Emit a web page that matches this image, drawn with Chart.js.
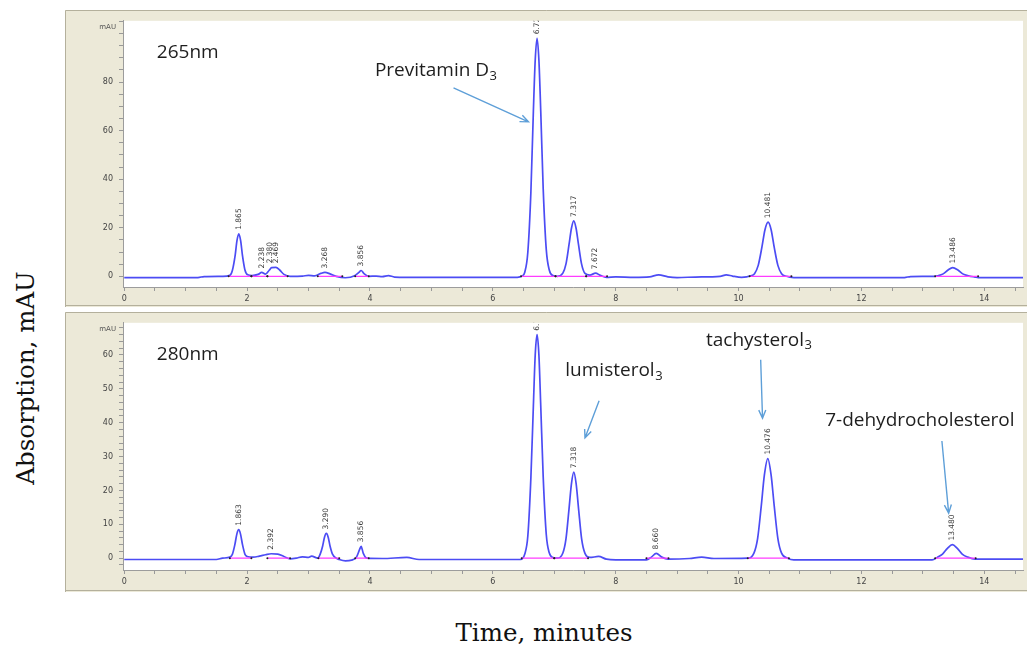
<!DOCTYPE html>
<html>
<head>
<meta charset="utf-8">
<title>Chromatogram 265 / 280 nm</title>
<script src="https://cdn.jsdelivr.net/npm/chart.js@4.4.1/dist/chart.umd.min.js"></script>
<style>
  html, body { margin: 0; padding: 0; background: #fff; }
  #page { position: relative; width: 1027px; height: 645px; overflow: hidden; background: #fff; }
  #page canvas { position: absolute; left: 65px; }
  #c265 { top: 10px; }
  #c280 { top: 312px; }
  .axis-title { position: absolute; font-family: 'DejaVu Serif', serif; font-size: 24.5px; color: #111; white-space: nowrap; }
  #ytitle { left: 25px; top: 378px; transform: translate(-50%, -50%) rotate(-90deg); }
  #xtitle { left: 544px; top: 632px; transform: translate(-50%, -50%); }
</style>
</head>
<body>
<div id="page">
  <canvas id="c265" width="962" height="297"></canvas>
  <canvas id="c280" width="962" height="280"></canvas>
  <div id="ytitle" class="axis-title">Absorption, mAU</div>
  <div id="xtitle" class="axis-title">Time, minutes</div>
</div>
<script>
// ---- 265 nm trace (time in min, absorbance in mAU)
const time265 = [0, 1.2, 1.3, 1.6, 1.72, 1.76, 1.805, 1.835, 1.865, 1.895, 1.925, 1.965, 2.01, 2.08, 2.18, 2.238, 2.3, 2.36, 2.4, 2.47, 2.53, 2.6, 2.7, 2.9, 3.0, 3.1, 3.2, 3.268, 3.35, 3.45, 3.6, 3.75, 3.82, 3.856, 3.9, 3.98, 4.1, 4.2, 4.3, 4.4, 4.6,
  6.4, 6.47, 6.52, 6.57, 6.62, 6.66, 6.69, 6.72, 6.75, 6.78, 6.82, 6.87, 6.92, 6.98, 7.05, 7.14, 7.19, 7.24, 7.28, 7.317, 7.355, 7.395, 7.445, 7.5, 7.58, 7.672, 7.75, 7.85,
  8.0, 8.3, 8.55, 8.7, 8.85, 9.0, 9.3, 9.7, 9.8, 9.9, 10.05, 10.2, 10.26, 10.32, 10.38, 10.43, 10.481, 10.53, 10.58, 10.64, 10.7, 10.78, 10.9,
  12.7, 12.8, 13.2, 13.24, 13.33, 13.41, 13.486, 13.57, 13.65, 13.74, 13.85, 13.9, 14.63];
const abs265 = [-0.5, -0.5, -0.1, 0, 0.4, 2.4, 8.5, 14.7, 17.5, 14.7, 8.5, 2.6, 0.6, 0.3, 0.8, 1.6, 0.9, 2.5, 3.6, 3.7, 2.6, 0.8, 0, 0.1, 0.4, 0.2, 1.2, 1.6, 1.0, 0, -0.6, 0.2, 1.6, 2.4, 1.2, 0, 0.1, -0.1, 0.3, -0.3, -0.4,
  -0.4, 0, 1.7, 10, 35, 68, 89, 98, 89, 68, 36, 11, 2.5, 0.3, 0, 1.3, 5, 13, 19.8, 22.8, 19.8, 13, 5, 1.2, 0.5, 1.3, 0.4, -0.4,
  -0.2, -0.4, -0.2, 0.6, -0.2, -0.5, -0.3, 0, 0.6, 0.1, -0.4, 0.2, 1.1, 4.5, 12, 19.2, 22.3, 19.2, 12, 4.5, 1.1, 0, -0.5,
  -0.5, -0.1, 0, 0.2, 1.0, 2.6, 3.6, 2.6, 1.0, 0.2, -0.3, -0.5, -0.5];

// ---- 280 nm trace
const time280 = [0, 1.5, 1.6, 1.72, 1.76, 1.8, 1.833, 1.863, 1.893, 1.926, 1.966, 2.0, 2.1, 2.2, 2.3, 2.392, 2.5, 2.6, 2.7, 2.8, 2.9, 3.0, 3.05, 3.15, 3.19, 3.23, 3.26, 3.29, 3.32, 3.35, 3.39, 3.45, 3.5, 3.6, 3.7, 3.78, 3.83, 3.856, 3.89, 3.95, 4.2, 4.6, 4.8,
  6.45, 6.52, 6.57, 6.62, 6.66, 6.69, 6.72, 6.75, 6.78, 6.82, 6.87, 6.92, 6.98, 7.05, 7.14, 7.19, 7.24, 7.28, 7.318, 7.356, 7.396, 7.446, 7.5, 7.58, 7.72, 7.85,
  8.0, 8.5, 8.58, 8.66, 8.75, 8.85, 9.2, 9.4, 9.6, 10.15, 10.25, 10.31, 10.37, 10.42, 10.476, 10.53, 10.58, 10.64, 10.7, 10.8, 10.9,
  13.15, 13.24, 13.32, 13.4, 13.48, 13.56, 13.64, 13.73, 13.85, 14.63];
const abs280 = [-0.4, -0.4, 0, 0.3, 1.1, 3.9, 7.1, 8.4, 7.1, 3.9, 1.1, 0.5, 0.3, 0.6, 1.0, 1.3, 1.2, 0.5, -0.2, 0, 0.4, 0.2, 0.6, 0, 1.2, 3.6, 6.2, 7.3, 6.2, 3.6, 1.2, 0, -0.4, -0.8, -0.6, 0.3, 2.5, 3.5, 1.5, 0, -0.1, 0.2, -0.4,
  -0.4, 1.2, 6.6, 24, 45, 60, 66, 60, 45, 24, 7, 1.5, 0.2, 0, 1.5, 5.6, 14.5, 22, 25.4, 22, 14.5, 5.6, 1.4, 0.2, 0.5, -0.3,
  -0.5, -0.5, 0.3, 1.4, 0.3, -0.3, -0.1, 0.3, -0.1, 0, 1.5, 5.8, 15.5, 24.5, 29.4, 24.5, 15.5, 5.8, 1.5, 0, -0.5,
  -0.5, 0.3, 1.2, 2.9, 4, 2.9, 1.2, 0.3, -0.3, -0.3];

// integration baselines (start, end) in minutes
const base265 = [[1.70, 2.07], [2.07, 2.33], [2.33, 2.66], [3.15, 3.55], [3.76, 3.98], [6.46, 7.02], [7.02, 7.52], [7.52, 7.86], [10.18, 10.86], [13.2, 13.9]];
const base280 = [[1.72, 2.07], [2.33, 2.70], [3.16, 3.50], [3.76, 3.98], [6.47, 7.00], [7.00, 7.55], [8.50, 8.86], [10.15, 10.82], [13.2, 13.86]];

// retention time labels and the height they sit on
const peaks265 = ['1.865', '2.238', '2.380', '2.469', '3.268', '3.856', '6.720', '7.317', '7.672', '10.481', '13.486'];
const tops265 = [17.5, 1.6, 3.7, 3.7, 1.6, 2.4, 98, 22.8, 1.3, 22.3, 3.6];
const peaks280 = ['1.863', '2.392', '3.290', '3.856', '6.720', '7.318', '8.660', '10.476', '13.480'];
const tops280 = [8.4, 1.3, 7.3, 3.5, 66, 25.4, 1.4, 29.4, 4];

// axis labels
const xLabels = [0, 2, 4, 6, 8, 10, 12, 14];
const yLabels265 = [0, 20, 40, 60, 80];
const yLabels280 = [0, 10, 20, 30, 40, 50, 60];

// text notes and arrows, placed in data units
const notes265 = [
  { text: '265nm', t: 0.53, v: 92.2 },
  { text: 'Previtamin D', sub: '3', t: 4.08, v: 84.6 }
];
const arrows265 = [[5.36, 77.6, 6.58, 63.6]];
const notes280 = [
  { text: '280nm', t: 0.53, v: 60.2 },
  { text: 'lumisterol', sub: '3', t: 7.18, v: 55.3 },
  { text: 'tachysterol', sub: '3', t: 9.47, v: 64.2 },
  { text: '7-dehydrocholesterol', t: 11.41, v: 40.6 }
];
const arrows280 = [[7.73, 46.5, 7.50, 35.5], [10.36, 58.6, 10.39, 41.3], [13.31, 34.6, 13.42, 13.3]];

const BEIGE = '#ECE9D8';
const TRACE = '#4c4cf4';
const PINK = '#ff3cff';

function toPoints(ts, vs) {
  return ts.map((t, i) => ({ x: t, y: vs[i] }));
}

function baselinePoints(segs) {
  const pts = [];
  segs.forEach(([a, b]) => {
    pts.push({ x: a, y: 0 }, { x: b, y: 0 }, { x: b, y: null });
  });
  return pts;
}

const framePlugin = {
  id: 'frame',
  beforeDraw(chart) {
    const { ctx, width, height, chartArea: a } = chart;
    ctx.save();
    ctx.fillStyle = BEIGE;
    ctx.fillRect(0, 0, width, height);
    ctx.strokeStyle = '#b4b09c';
    ctx.lineWidth = 1;
    ctx.beginPath();
    ctx.moveTo(0.5, height);
    ctx.lineTo(0.5, 0.5);
    ctx.lineTo(width, 0.5);
    ctx.moveTo(0, height - 1.5);
    ctx.lineTo(width, height - 1.5);
    ctx.stroke();
    ctx.fillStyle = '#fff';
    ctx.fillRect(a.left, a.top, a.right - a.left, a.bottom - a.top);
    // unit label above the y axis
    ctx.fillStyle = '#555';
    ctx.font = '7px "DejaVu Sans"';
    ctx.textAlign = 'right';
    ctx.textBaseline = 'middle';
    ctx.fillText('mAU', a.left - 7, a.top + 6);
    ctx.restore();
  }
};

const markupPlugin = {
  id: 'markup',
  afterDatasetsDraw(chart, args, opts) {
    const { ctx, chartArea: a, scales: { x, y } } = chart;
    ctx.save();
    ctx.beginPath();
    ctx.rect(a.left, a.top, a.right - a.left, a.bottom - a.top);
    ctx.clip();

    // rotated retention times above peaks
    ctx.fillStyle = '#3a3a3a';
    ctx.font = '7.5px "DejaVu Sans"';
    ctx.textAlign = 'left';
    ctx.textBaseline = 'middle';
    opts.peaks.forEach((p, i) => {
      const px = x.getPixelForValue(parseFloat(p));
      const py = y.getPixelForValue(opts.tops[i]) - 4;
      ctx.save();
      ctx.translate(px, py);
      ctx.rotate(-Math.PI / 2);
      ctx.fillText(p, 0, 0);
      ctx.restore();
    });

    // notes
    ctx.fillStyle = '#1e1e1e';
    ctx.textBaseline = 'middle';
    opts.notes.forEach((n) => {
      const px = x.getPixelForValue(n.t);
      const py = y.getPixelForValue(n.v);
      ctx.font = '19px "Open Sans"';
      ctx.fillText(n.text, px, py);
      if (n.sub) {
        const w = ctx.measureText(n.text).width;
        ctx.font = '13px "Open Sans"';
        ctx.fillText(n.sub, px + w + 0.5, py + 5);
      }
    });

    // arrows
    ctx.strokeStyle = '#5e9fd8';
    ctx.lineWidth = 1.4;
    opts.arrows.forEach(([t1, v1, t2, v2]) => {
      const x1 = x.getPixelForValue(t1), y1 = y.getPixelForValue(v1);
      const x2 = x.getPixelForValue(t2), y2 = y.getPixelForValue(v2);
      const ang = Math.atan2(y2 - y1, x2 - x1);
      const head = 9;
      ctx.beginPath();
      ctx.moveTo(x1, y1);
      ctx.lineTo(x2, y2);
      ctx.moveTo(x2 - head * Math.cos(ang - 0.4), y2 - head * Math.sin(ang - 0.4));
      ctx.lineTo(x2, y2);
      ctx.lineTo(x2 - head * Math.cos(ang + 0.4), y2 - head * Math.sin(ang + 0.4));
      ctx.stroke();
    });
    ctx.restore();
  }
};

function stepTicks(scale, step) {
  const ticks = [];
  for (let v = Math.ceil(scale.min / step) * step; v <= scale.max + 1e-9; v += step) {
    ticks.push({ value: Math.round(v * 1000) / 1000 });
  }
  scale.ticks = ticks;
}

function makeChart(id, times, values, bases, peaks, tops, notes, arrows, yMin, yMax, yStep, yLabels, pad) {
  return new Chart(document.getElementById(id), {
    type: 'line',
    data: {
      datasets: [
        {
          data: baselinePoints(bases),
          borderColor: PINK,
          borderWidth: 1.2,
          pointRadius: 1,
          pointBackgroundColor: '#222',
          pointBorderWidth: 0,
          spanGaps: false,
          tension: 0
        },
        {
          data: toPoints(times, values),
          borderColor: TRACE,
          borderWidth: 1.7,
          pointRadius: 0,
          cubicInterpolationMode: 'monotone'
        }
      ]
    },
    options: {
      responsive: false,
      animation: false,
      devicePixelRatio: 1,
      layout: { padding: pad },
      plugins: {
        legend: { display: false },
        tooltip: { enabled: false },
        markup: { peaks, tops, notes, arrows }
      },
      scales: {
        x: {
          type: 'linear',
          min: -0.02,
          max: 14.63,
          afterBuildTicks: (s) => stepTicks(s, 0.5),
          afterFit: (s) => { s.height = 20; },
          ticks: {
            autoSkip: false,
            maxRotation: 0,
            padding: 3,
            color: '#444',
            font: { family: 'DejaVu Sans', size: 8 },
            callback: (v) => (xLabels.includes(v) ? String(v) : '')
          },
          grid: { drawOnChartArea: false, tickLength: 4, color: '#999' },
          border: { color: '#9c9c9c' }
        },
        y: {
          type: 'linear',
          min: yMin,
          max: yMax,
          afterBuildTicks: (s) => stepTicks(s, yStep),
          afterFit: (s) => { s.width = 58; },
          ticks: {
            autoSkip: false,
            padding: 6,
            color: '#444',
            font: { family: 'DejaVu Sans', size: 8 },
            callback: (v) => (yLabels.includes(v) ? String(v) : '')
          },
          grid: { drawOnChartArea: false, tickLength: 4, color: '#999' },
          border: { color: '#9c9c9c' }
        }
      }
    },
    plugins: [framePlugin, markupPlugin]
  });
}

makeChart('c265', time265, abs265, base265, peaks265, tops265, notes265, arrows265,
  -4.4, 105.2, 5, yLabels265, { top: 3, right: 0, bottom: 0, left: 0 });
makeChart('c280', time280, abs280, base280, peaks280, tops280, notes280, arrows280,
  -3.5, 69.5, 2, yLabels280, { top: 5, right: 0, bottom: 2, left: 0 });
</script>
</body>
</html>
